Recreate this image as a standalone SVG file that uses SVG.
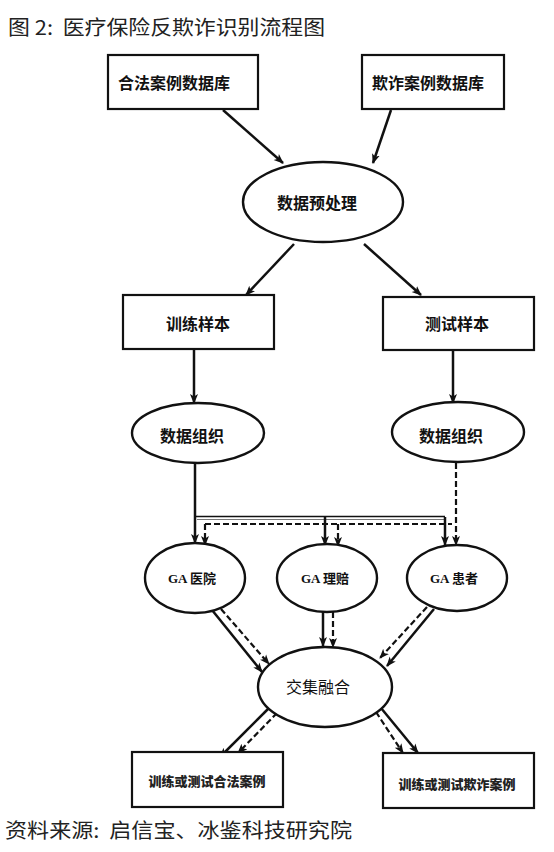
<svg xmlns="http://www.w3.org/2000/svg" width="554" height="852" viewBox="0 0 554 852">
<defs>
<marker id="ah" viewBox="0 0 10 10" refX="9" refY="5" markerWidth="10" markerHeight="10" orient="auto" markerUnits="userSpaceOnUse">
<path d="M0,1 L10,5 L0,9 L2.5,5 Z" fill="#111"/>
</marker>
<style>
.box{fill:#fff;stroke:#111;stroke-width:2.2}
.ell{fill:#fff;stroke:#111;stroke-width:2.4}
.t{font-family:"Noto Sans CJK SC","Noto Sans",sans-serif;font-size:16px;font-weight:bold;fill:#111;text-anchor:middle;dominant-baseline:central}
.ga{font-family:"Liberation Serif","Noto Sans CJK SC",serif;font-size:13px;font-weight:bold;fill:#111;text-anchor:middle;dominant-baseline:central}
.sm{font-family:"Noto Sans CJK SC",sans-serif;font-size:13px;font-weight:900;fill:#222;text-anchor:middle;dominant-baseline:central}
.cap{font-family:"Noto Sans CJK SC","Noto Sans",sans-serif;font-size:20px;fill:#222}
.s{stroke:#111;stroke-width:2.5;fill:none}
.d{stroke:#111;stroke-width:2.2;fill:none;stroke-dasharray:6 3}
.a{marker-end:url(#ah)}
</style>
</defs>
<rect width="554" height="852" fill="#fff"/>
<text class="cap" x="8" y="35" textLength="317" lengthAdjust="spacingAndGlyphs">图&#160;2:&#160;&#160;医疗保险反欺诈识别流程图</text>
<text class="cap" x="5" y="838" textLength="347" lengthAdjust="spacingAndGlyphs">资料来源:&#160;&#160;启信宝、冰鉴科技研究院</text>

<g id="connectors">
<line class="s a" x1="223" y1="110" x2="283" y2="163"/>
<line class="s a" x1="391" y1="110" x2="373" y2="163"/>
<line class="s a" x1="294" y1="244" x2="246" y2="295"/>
<line class="s a" x1="364" y1="244" x2="421" y2="295"/>
<line class="s a" x1="194" y1="349" x2="194" y2="403"/>
<line class="s a" x1="453" y1="350" x2="453" y2="403"/>
<!-- solid training tree -->
<line class="s a" x1="195" y1="463" x2="195" y2="543"/>
<line x1="195" y1="516.5" x2="445" y2="516.5" stroke="#111" stroke-width="1.4"/>
<line x1="197" y1="519.5" x2="445" y2="519.5" stroke="#777" stroke-width="1"/>
<line class="s a" x1="325" y1="517" x2="325" y2="545"/>
<line class="s a" x1="445" y1="517" x2="445" y2="545"/>
<!-- dashed testing tree -->
<line class="d a" x1="456" y1="463" x2="456" y2="545"/>
<line class="d" x1="205" y1="524" x2="452" y2="524"/>
<line class="d a" x1="205" y1="524" x2="205" y2="545"/>
<line class="d a" x1="338" y1="524" x2="338" y2="546"/>
<!-- GA to fusion -->
<line class="s a" x1="212" y1="610" x2="262" y2="672"/>
<line class="d a" x1="221" y1="609" x2="269" y2="664"/>
<line class="s a" x1="323" y1="612" x2="323" y2="646"/>
<line class="d a" x1="333" y1="612" x2="333" y2="647"/>
<line class="s a" x1="434" y1="609" x2="387" y2="666"/>
<line class="d a" x1="427" y1="607" x2="380" y2="658"/>
<!-- fusion to outputs -->
<line class="s a" x1="268" y1="709" x2="220" y2="757"/>
<line class="d a" x1="277" y1="713" x2="238" y2="753"/>
<line class="s a" x1="381" y1="708" x2="418" y2="753"/>
<line class="d a" x1="376" y1="712" x2="403" y2="753"/>
</g>

<g id="legal-db"><rect class="box" x="108" y="55" width="150" height="54"/><text class="t" x="174" y="82">合法案例数据库</text></g>
<g id="fraud-db"><rect class="box" x="362" y="55" width="142" height="54"/><text class="t" x="428" y="82">欺诈案例数据库</text></g>
<g id="preprocess"><ellipse class="ell" cx="323" cy="202" rx="80" ry="40"/><text class="t" x="317" y="202">数据预处理</text></g>
<g id="train-sample"><rect class="box" x="123" y="295" width="151" height="54"/><text class="t" x="198" y="323">训练样本</text></g>
<g id="test-sample"><rect class="box" x="383" y="297" width="151" height="53"/><text class="t" x="457" y="323">测试样本</text></g>
<g id="org-train"><ellipse class="ell" cx="198" cy="433" rx="66" ry="30"/><text class="t" x="192" y="435">数据组织</text></g>
<g id="org-test"><ellipse class="ell" cx="458" cy="432" rx="66" ry="30"/><text class="t" x="451" y="435">数据组织</text></g>
<g id="ga-hospital"><ellipse class="ell" cx="195" cy="578" rx="50" ry="35"/><text class="ga" x="192" y="578">GA 医院</text></g>
<g id="ga-claim"><ellipse class="ell" cx="327" cy="578" rx="50" ry="34"/><text class="ga" x="325" y="578">GA 理赔</text></g>
<g id="ga-patient"><ellipse class="ell" cx="457" cy="578" rx="50" ry="33"/><text class="ga" x="454" y="578">GA 患者</text></g>
<g id="fusion"><ellipse class="ell" cx="325" cy="687" rx="67" ry="40"/><text class="t" x="318" y="686" style="font-weight:normal">交集融合</text></g>
<g id="out-legal"><rect class="box" x="132" y="752" width="151" height="55"/><text class="sm" x="207" y="780">训练或测试合法案例</text></g>
<g id="out-fraud"><rect class="box" x="383" y="753" width="151" height="55"/><text class="sm" x="457" y="783">训练或测试欺诈案例</text></g>
</svg>
